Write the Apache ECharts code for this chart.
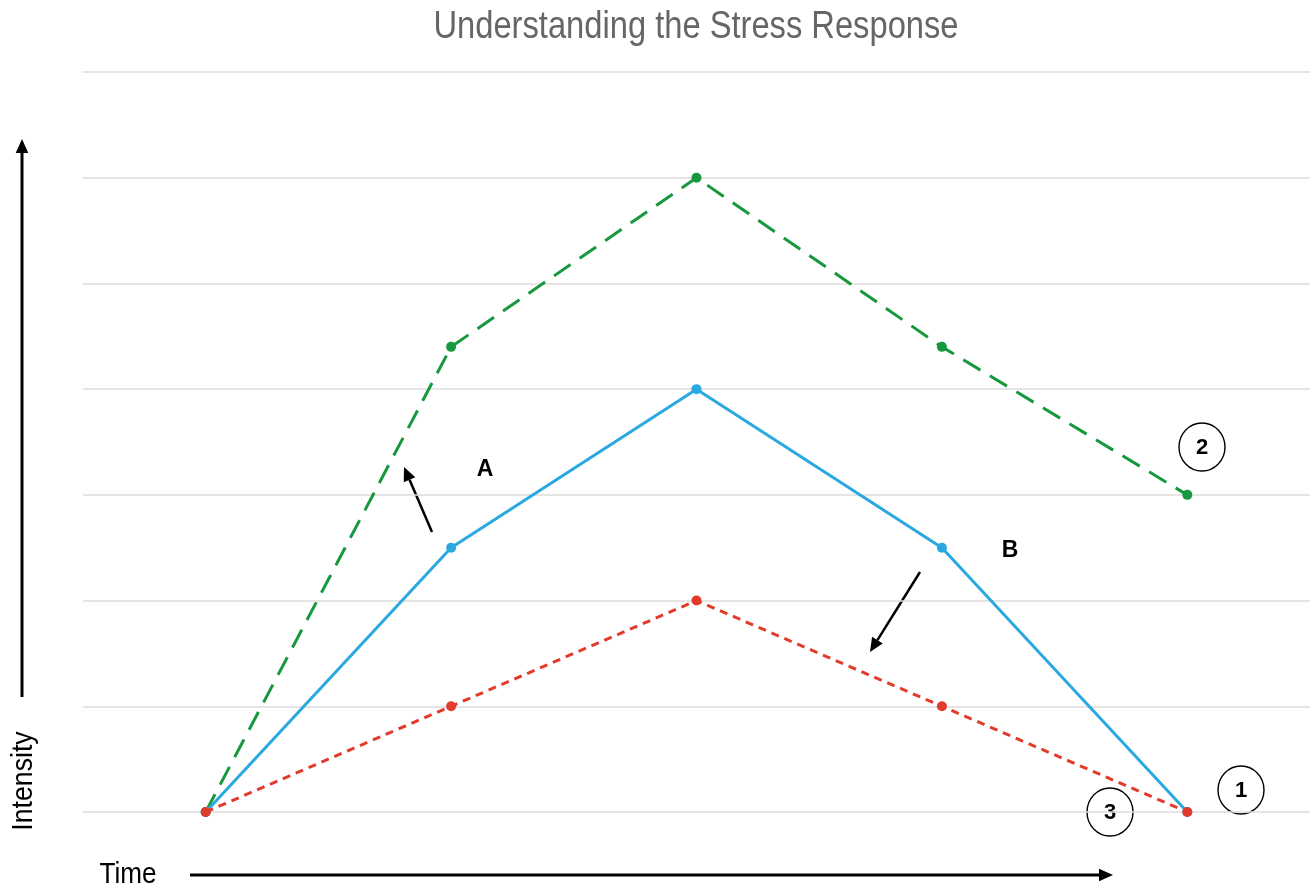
<!DOCTYPE html>
<html>
<head>
<meta charset="utf-8">
<script src="https://cdn.jsdelivr.net/npm/echarts@6/dist/echarts.min.js"></script>
<style>
  html, body { margin: 0; padding: 0; background: #fff; }
  #chart { width: 1313px; height: 888px; }
</style>
</head>
<body>
<div id="chart"></div>
<script>
// data
const stages = ["t0", "t1", "t2", "t3", "t4"];
const normalResponse = [0, 2.5, 4, 2.5, 0];    // blue, 1
const chronicResponse = [0, 4.4, 6, 4.4, 3];   // green, 2
const reducedResponse = [0, 1, 2, 1, 0];       // red, 3

const BLUE = "#2aa8e0";
const GREEN = "#17983d";
const RED = "#e23b2c";
const FONT = "'Liberation Sans', Arial, sans-serif";

const chart = echarts.init(document.getElementById("chart"));

// arrow helper: line + triangle head
function arrow(x1, y1, x2, y2, head, width) {
  const ang = Math.atan2(y2 - y1, x2 - x1);
  const bx = x2 - head * Math.cos(ang), by = y2 - head * Math.sin(ang);
  const px = Math.sin(ang) * head * 0.45, py = -Math.cos(ang) * head * 0.45;
  return [
    { type: "line", shape: { x1: x1, y1: y1, x2: bx, y2: by }, style: { stroke: "#000", lineWidth: width } },
    { type: "polygon", shape: { points: [[x2, y2], [bx + px, by + py], [bx - px, by - py]] }, style: { fill: "#000" } }
  ];
}

function circled(cx, cy, txt) {
  return [
    { type: "ellipse", shape: { cx: cx, cy: cy, rx: 23, ry: 24 }, style: { fill: "#fff", stroke: "#000", lineWidth: 1.4 } },
    { type: "text", x: cx, y: cy + 1, style: { text: txt, fill: "#000", font: "bold 22px " + FONT, align: "center", verticalAlign: "middle" } }
  ];
}

// narrow-looking text (condensed via scaleX)
function narrowText(x, y, txt, size, color, sx, rot) {
  return {
    type: "text", x: x, y: y, scaleX: sx, rotation: rot || 0,
    style: { text: txt, fill: color, font: size + "px " + FONT, align: "center", verticalAlign: "middle" }
  };
}

const graphics = [].concat(
  arrow(22, 697, 22, 139, 14, 3),
  arrow(190, 875, 1113, 875, 14, 3),
  arrow(432, 532, 404, 467, 14, 2.5),
  arrow(920, 572, 870, 652, 14, 2.5),
  circled(1202, 447, "2"),
  circled(1241, 790, "1"),
  circled(1110, 812, "3"),
  [
    { type: "text", x: 485, y: 470, style: { text: "A", fill: "#000", font: "bold 23px " + FONT, align: "center", verticalAlign: "middle" } },
    { type: "text", x: 1010, y: 551, style: { text: "B", fill: "#000", font: "bold 23px " + FONT, align: "center", verticalAlign: "middle" } },
    narrowText(696, 28, "Understanding the Stress Response", 38, "#666", 0.86),
    narrowText(128, 875, "Time", 29, "#000", 0.9),
    { type: "text", x: 24, y: 781, rotation: Math.PI / 2, scaleX: 0.92,
      style: { text: "Intensity", fill: "#000", font: "29px " + FONT, align: "center", verticalAlign: "middle" } }
  ]
);

chart.setOption({
  backgroundColor: "#fff",
  animation: false,
  grid: { left: 83, right: 3, top: 72, bottom: 76 },
  xAxis: {
    type: "category",
    data: stages,
    boundaryGap: true,
    axisLine: { show: false },
    axisTick: { show: false },
    axisLabel: { show: false }
  },
  yAxis: {
    type: "value",
    min: 0,
    max: 7,
    interval: 1,
    axisLine: { show: false },
    axisTick: { show: false },
    axisLabel: { show: false },
    splitLine: { lineStyle: { color: "#dcdcdc", width: 1.5 } }
  },
  series: [
    {
      type: "line",
      data: chronicResponse,
      symbol: "circle",
      symbolSize: 10,
      itemStyle: { color: GREEN },
      lineStyle: { color: GREEN, width: 3, type: [20, 11] },
      z: 2
    },
    {
      type: "line",
      data: normalResponse,
      symbol: "circle",
      symbolSize: 10,
      itemStyle: { color: BLUE },
      lineStyle: { color: BLUE, width: 3 },
      z: 3
    },
    {
      type: "line",
      data: reducedResponse,
      symbol: "circle",
      symbolSize: 10,
      itemStyle: { color: RED },
      lineStyle: { color: RED, width: 3, type: [8, 6] },
      z: 4
    }
  ],
  graphic: graphics
});
</script>
</body>
</html>
